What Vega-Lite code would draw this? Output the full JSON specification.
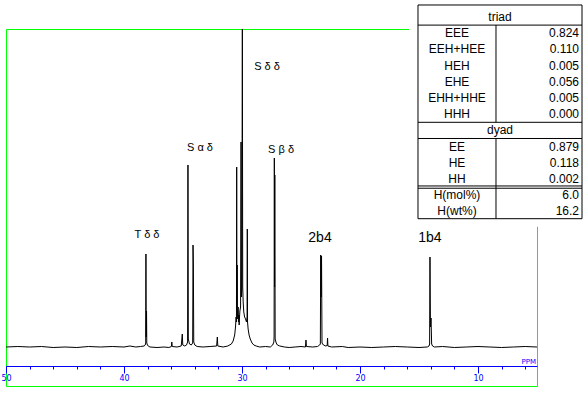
{
  "$schema": "https://vega.github.io/schema/vega-lite/v6.json",
  "width": 531,
  "height": 357,
  "autosize": {"type": "none"},
  "padding": {"left": 6, "top": 29, "right": 48, "bottom": 9},
  "background": "white",
  "config": {"view": {"stroke": "#00ff00", "strokeWidth": 1}},
  "datasets": {
    "spectrum": [
      {"ppm": 50, "h": 0}, {"ppm": 49, "h": 0.5}, {"ppm": 48, "h": 0}, {"ppm": 47, "h": 0.5}, {"ppm": 46, "h": -0.5},
      {"ppm": 45, "h": 0}, {"ppm": 44, "h": -0.5}, {"ppm": 43, "h": 0.5}, {"ppm": 42, "h": 0}, {"ppm": 41, "h": 0.5},
      {"ppm": 40, "h": 0}, {"ppm": 39.5, "h": 1}, {"ppm": 39, "h": 0}, {"ppm": 38.6, "h": 0.5}, {"ppm": 38.3, "h": 1},
      {"ppm": 38.2, "h": 2}, {"ppm": 38.16, "h": 4}, {"ppm": 38.14, "h": 93}, {"ppm": 38.12, "h": 10}, {"ppm": 38.09, "h": 36},
      {"ppm": 38.07, "h": 4}, {"ppm": 38.0, "h": 1.5}, {"ppm": 37.8, "h": 0}, {"ppm": 37.2, "h": -0.5}, {"ppm": 36.6, "h": 0},
      {"ppm": 36.2, "h": -0.5}, {"ppm": 35.98, "h": 0.5}, {"ppm": 35.95, "h": 5}, {"ppm": 35.91, "h": 0.5}, {"ppm": 35.5, "h": 0},
      {"ppm": 35.15, "h": 1}, {"ppm": 35.06, "h": 13}, {"ppm": 35.02, "h": 2}, {"ppm": 34.85, "h": 1}, {"ppm": 34.7, "h": 2},
      {"ppm": 34.61, "h": 5}, {"ppm": 34.58, "h": 182}, {"ppm": 34.55, "h": 8}, {"ppm": 34.45, "h": 3}, {"ppm": 34.3, "h": 2},
      {"ppm": 34.18, "h": 4}, {"ppm": 34.15, "h": 102}, {"ppm": 34.12, "h": 81}, {"ppm": 34.09, "h": 5}, {"ppm": 34.0, "h": 2},
      {"ppm": 33.8, "h": 0.5}, {"ppm": 33.3, "h": 0}, {"ppm": 32.7, "h": 0.5}, {"ppm": 32.15, "h": 1}, {"ppm": 32.09, "h": 10},
      {"ppm": 32.05, "h": 1}, {"ppm": 31.6, "h": 0}, {"ppm": 31.2, "h": 1}, {"ppm": 30.9, "h": 3}, {"ppm": 30.75, "h": 6},
      {"ppm": 30.62, "h": 12}, {"ppm": 30.55, "h": 20}, {"ppm": 30.5, "h": 30}, {"ppm": 30.47, "h": 25}, {"ppm": 30.45, "h": 180},
      {"ppm": 30.43, "h": 40}, {"ppm": 30.41, "h": 82}, {"ppm": 30.39, "h": 35}, {"ppm": 30.36, "h": 28}, {"ppm": 30.33, "h": 40},
      {"ppm": 30.3, "h": 25}, {"ppm": 30.27, "h": 32}, {"ppm": 30.24, "h": 22}, {"ppm": 30.21, "h": 30}, {"ppm": 30.18, "h": 36},
      {"ppm": 30.12, "h": 40}, {"ppm": 30.08, "h": 205}, {"ppm": 30.05, "h": 50}, {"ppm": 30.01, "h": 60}, {"ppm": 29.97, "h": 340},
      {"ppm": 29.94, "h": 60}, {"ppm": 29.9, "h": 45}, {"ppm": 29.85, "h": 35}, {"ppm": 29.78, "h": 30}, {"ppm": 29.7, "h": 28},
      {"ppm": 29.62, "h": 25}, {"ppm": 29.57, "h": 30}, {"ppm": 29.55, "h": 118}, {"ppm": 29.53, "h": 25}, {"ppm": 29.48, "h": 18},
      {"ppm": 29.4, "h": 12}, {"ppm": 29.3, "h": 8}, {"ppm": 29.15, "h": 4}, {"ppm": 29.0, "h": 2}, {"ppm": 28.8, "h": 1},
      {"ppm": 28.5, "h": 0}, {"ppm": 28.0, "h": 0.5}, {"ppm": 27.6, "h": 0}, {"ppm": 27.4, "h": 2}, {"ppm": 27.3, "h": 5},
      {"ppm": 27.28, "h": 10}, {"ppm": 27.26, "h": 189}, {"ppm": 27.24, "h": 60}, {"ppm": 27.22, "h": 172}, {"ppm": 27.19, "h": 8},
      {"ppm": 27.1, "h": 4}, {"ppm": 27.0, "h": 2}, {"ppm": 26.8, "h": 1}, {"ppm": 26.4, "h": 0}, {"ppm": 26.0, "h": -0.5},
      {"ppm": 25.5, "h": 0}, {"ppm": 25.0, "h": 0.5}, {"ppm": 24.62, "h": 0}, {"ppm": 24.58, "h": 7}, {"ppm": 24.54, "h": 0.5},
      {"ppm": 24.0, "h": 0}, {"ppm": 23.6, "h": 0.5}, {"ppm": 23.42, "h": 2}, {"ppm": 23.36, "h": 3}, {"ppm": 23.33, "h": 92},
      {"ppm": 23.3, "h": 50}, {"ppm": 23.26, "h": 91}, {"ppm": 23.22, "h": 4}, {"ppm": 23.1, "h": 2}, {"ppm": 22.9, "h": 1},
      {"ppm": 22.78, "h": 1.5}, {"ppm": 22.75, "h": 9}, {"ppm": 22.72, "h": 1}, {"ppm": 22.4, "h": 0}, {"ppm": 21.5, "h": 0.5},
      {"ppm": 21.0, "h": -0.5}, {"ppm": 20.0, "h": 0}, {"ppm": 19.0, "h": -0.5}, {"ppm": 18.0, "h": 0}, {"ppm": 17.0, "h": 0.5},
      {"ppm": 16.0, "h": 0}, {"ppm": 15.0, "h": -0.5}, {"ppm": 14.3, "h": 0}, {"ppm": 14.15, "h": 1}, {"ppm": 14.1, "h": 3},
      {"ppm": 14.07, "h": 90}, {"ppm": 14.03, "h": 20}, {"ppm": 13.98, "h": 29}, {"ppm": 13.93, "h": 3}, {"ppm": 13.85, "h": 1},
      {"ppm": 13.7, "h": 0}, {"ppm": 13.0, "h": 0.5}, {"ppm": 12.0, "h": -0.5}, {"ppm": 11.0, "h": 0}, {"ppm": 10.0, "h": 0.5},
      {"ppm": 9.0, "h": 0}, {"ppm": 8.0, "h": -0.5}, {"ppm": 7.0, "h": 0}, {"ppm": 6.0, "h": 0.5}, {"ppm": 5.0, "h": 0}
    ],
    "greekLabels": [
      {"ppm": 38.05, "h": 112, "text": "T δ δ"},
      {"ppm": 33.56, "h": 199, "text": "S α δ"},
      {"ppm": 27.88, "h": 280, "text": "S δ δ"},
      {"ppm": 26.69, "h": 197, "text": "S β δ"}
    ],
    "bLabels": [
      {"ppm": 23.39, "h": 109, "text": "2b4"},
      {"ppm": 14.07, "h": 109, "text": "1b4"}
    ],
    "tableRows": [
      {"row": 1, "label": "EEE", "value": "0.824"},
      {"row": 2, "label": "EEH+HEE", "value": "0.110"},
      {"row": 3, "label": "HEH", "value": "0.005"},
      {"row": 4, "label": "EHE", "value": "0.056"},
      {"row": 5, "label": "EHH+HHE", "value": "0.005"},
      {"row": 6, "label": "HHH", "value": "0.000"},
      {"row": 8, "label": "EE", "value": "0.879"},
      {"row": 9, "label": "HE", "value": "0.118"},
      {"row": 10, "label": "HH", "value": "0.002"},
      {"row": 11, "label": "H(mol%)", "value": "6.0"},
      {"row": 12, "label": "H(wt%)", "value": "16.2"}
    ],
    "tableHeaders": [
      {"row": 0, "label": "triad"},
      {"row": 7, "label": "dyad"}
    ],
    "hlines": [
      {"row": 0.5}, {"row": 6.5}, {"row": 7.5}, {"row": 10.43}, {"row": 10.57}
    ],
    "vlines": [
      {"row": 0.5, "row2": 6.5},
      {"row": 7.5, "row2": 12.45}
    ]
  },
  "layer": [
    {
      "layer": [
        {
          "data": {"name": "spectrum"},
          "mark": {"type": "line", "color": "black", "strokeWidth": 1, "clip": true},
          "encoding": {
            "x": {
              "field": "ppm", "type": "quantitative",
              "scale": {"domain": [50, 5], "nice": false, "zero": false},
              "axis": {
                "orient": "bottom", "offset": -20, "title": null, "grid": false,
                "values": [50, 48, 46, 44, 42, 40, 38, 36, 34, 32, 30, 28, 26, 24, 22, 20, 18, 16, 14, 12, 10, 8, 6],
                "domainColor": "#0000ff", "domainWidth": 1,
                "tickColor": "#0000ff", "tickWidth": 1, "tickSize": 3,
                "labels": false
              }
            },
            "y": {
              "field": "h", "type": "quantitative",
              "scale": {"domain": [-39, 318], "nice": false, "zero": false},
              "axis": null
            }
          }
        },
        {
          "data": {"name": "greekLabels"},
          "mark": {"type": "text", "font": "Liberation Sans", "fontSize": 11, "color": "black", "align": "center", "baseline": "middle"},
          "encoding": {
            "x": {
              "field": "ppm", "type": "quantitative",
              "axis": {
                "orient": "bottom", "offset": -20, "title": null, "grid": false,
                "values": [50, 40, 30, 20, 10],
                "domain": false,
                "tickColor": "#0000ff", "tickWidth": 1, "tickSize": 7,
                "labelColor": "#0000ff", "labelFont": "DejaVu Sans", "labelFontSize": 8,
                "labelPadding": 1, "labelFlush": false, "labelOverlap": false
              }
            },
            "y": {"field": "h", "type": "quantitative", "axis": null},
            "text": {"field": "text"}
          }
        },
        {
          "data": {"name": "bLabels"},
          "mark": {"type": "text", "font": "Liberation Sans", "fontSize": 14, "color": "black", "align": "center", "baseline": "middle"},
          "encoding": {
            "x": {"field": "ppm", "type": "quantitative", "axis": null},
            "y": {"field": "h", "type": "quantitative", "axis": null},
            "text": {"field": "text"}
          }
        },
        {
          "data": {"values": [{"t": "PPM"}]},
          "mark": {"type": "text", "font": "DejaVu Sans", "fontSize": 7, "color": "#0000ff", "align": "right", "baseline": "middle", "dx": -1},
          "encoding": {
            "x": {"datum": 5, "type": "quantitative", "axis": null},
            "y": {"datum": -15, "type": "quantitative", "axis": null},
            "text": {"field": "t"}
          }
        }
      ],
      "resolve": {"axis": {"x": "independent"}}
    },
    {
      "layer": [
        {
          "data": {"values": [{"m": 1}]},
          "mark": {"type": "rect", "fill": "white", "stroke": null, "clip": false},
          "encoding": {
            "x": {"datum": -0.055, "type": "quantitative", "scale": {"domain": [-2.512, 0.7256], "nice": false, "zero": false}, "axis": null},
            "x2": {"datum": 1.25},
            "y": {"datum": -1.4, "type": "quantitative", "scale": {"domain": [0.7407, 22.778], "reverse": true, "nice": false, "zero": false}, "axis": null},
            "y2": {"datum": 12.95}
          }
        },
        {
          "data": {"values": [{"m": 1}]},
          "mark": {"type": "rect", "fill": "white", "stroke": "black", "strokeWidth": 1, "clip": false},
          "encoding": {
            "x": {"datum": 0, "type": "quantitative"},
            "x2": {"datum": 1},
            "y": {"datum": -0.741, "type": "quantitative"},
            "y2": {"datum": 12.45}
          }
        },
        {
          "data": {"name": "hlines"},
          "mark": {"type": "rule", "color": "black", "strokeWidth": 1, "clip": false},
          "encoding": {
            "x": {"datum": 0, "type": "quantitative"},
            "x2": {"datum": 1},
            "y": {"field": "row", "type": "quantitative"}
          }
        },
        {
          "data": {"name": "vlines"},
          "mark": {"type": "rule", "color": "black", "strokeWidth": 1, "clip": false},
          "encoding": {
            "x": {"datum": 0.4756, "type": "quantitative"},
            "y": {"field": "row", "type": "quantitative"},
            "y2": {"field": "row2"}
          }
        },
        {
          "data": {"name": "tableHeaders"},
          "mark": {"type": "text", "font": "Liberation Sans", "fontSize": 12, "color": "black", "align": "center", "baseline": "middle", "clip": false},
          "encoding": {
            "x": {"datum": 0.5, "type": "quantitative"},
            "y": {"field": "row", "type": "quantitative"},
            "text": {"field": "label"}
          }
        },
        {
          "data": {"name": "tableRows"},
          "mark": {"type": "text", "font": "Liberation Sans", "fontSize": 12, "color": "black", "align": "center", "baseline": "middle", "clip": false},
          "encoding": {
            "x": {"datum": 0.2378, "type": "quantitative"},
            "y": {"field": "row", "type": "quantitative"},
            "text": {"field": "label"}
          }
        },
        {
          "data": {"name": "tableRows"},
          "mark": {"type": "text", "font": "Liberation Sans", "fontSize": 12, "color": "black", "align": "right", "baseline": "middle", "clip": false},
          "encoding": {
            "x": {"datum": 0.9817, "type": "quantitative"},
            "y": {"field": "row", "type": "quantitative"},
            "text": {"field": "value"}
          }
        }
      ]
    }
  ],
  "resolve": {"scale": {"x": "independent", "y": "independent"}}
}
